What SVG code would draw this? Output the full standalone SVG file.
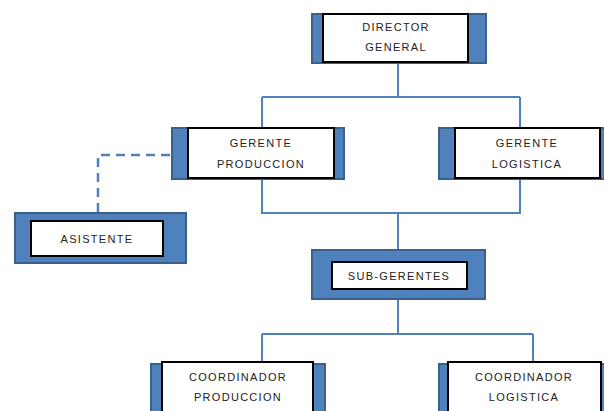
<svg xmlns="http://www.w3.org/2000/svg" width="604" height="411" viewBox="0 0 604 411">
  <style>
    .frame { fill: #4F81BD; stroke: #3A5F8B; stroke-width: 2; }
    .card { fill: #FFFFFF; stroke: #000000; stroke-width: 2; }
    .label { font-family: "Liberation Sans", Arial, sans-serif; font-size: 11px; fill: #222222; text-anchor: middle; letter-spacing: 1.3px; }
    .link { fill: none; stroke: #4F81BD; stroke-width: 2; }
    .dash { fill: none; stroke: #4F81BD; stroke-width: 2.5; stroke-dasharray: 9 6; }
  </style>
  <rect width="604" height="411" fill="#FFFFFF"/>

  <!-- reporting lines -->
  <g id="connectors">
    <path class="link" d="M398 63 V97 M262 97 H520 M262 97 V128 M520 97 V128"/>
    <path class="link" d="M262 180 V213 H520 V180 M398 213 V249"/>
    <path class="link" d="M398 299 V334 M262 334 H533 M262 334 V362 M533 334 V362"/>
    <path class="dash" d="M98 212 V155 H171"/>
  </g>

  <g id="director-general">
    <rect class="frame" x="312" y="14" width="174" height="49"/>
    <rect class="card" x="323" y="14" width="145" height="48"/>
    <text class="label" x="396" y="31">DIRECTOR</text>
    <text class="label" x="396" y="51">GENERAL</text>
  </g>

  <g id="gerente-produccion">
    <rect class="frame" x="172" y="128" width="172" height="51"/>
    <rect class="card" x="188" y="128" width="146" height="50"/>
    <text class="label" x="261" y="147">GERENTE</text>
    <text class="label" x="261" y="168">PRODUCCION</text>
  </g>

  <g id="gerente-logistica">
    <rect class="frame" x="439" y="128" width="170" height="51"/>
    <rect class="card" x="455" y="128" width="145" height="50"/>
    <text class="label" x="527" y="147">GERENTE</text>
    <text class="label" x="527" y="168">LOGISTICA</text>
  </g>

  <g id="asistente">
    <rect class="frame" x="15" y="213" width="171" height="50"/>
    <rect class="card" x="31" y="221" width="132" height="35"/>
    <text class="label" x="97" y="243">ASISTENTE</text>
  </g>

  <g id="sub-gerentes">
    <rect class="frame" x="312" y="250" width="173" height="49"/>
    <rect class="card" x="332" y="262" width="135" height="27"/>
    <text class="label" x="399" y="280">SUB-GERENTES</text>
  </g>

  <g id="coordinador-produccion">
    <rect class="frame" x="151" y="364" width="174" height="52"/>
    <rect class="card" x="162" y="362" width="151" height="54"/>
    <text class="label" x="238" y="381">COORDINADOR</text>
    <text class="label" x="238" y="401">PRODUCCION</text>
  </g>

  <g id="coordinador-logistica">
    <rect class="frame" x="439" y="364" width="170" height="52"/>
    <rect class="card" x="448" y="362" width="153" height="54"/>
    <text class="label" x="524" y="381">COORDINADOR</text>
    <text class="label" x="524" y="401">LOGISTICA</text>
  </g>
</svg>
